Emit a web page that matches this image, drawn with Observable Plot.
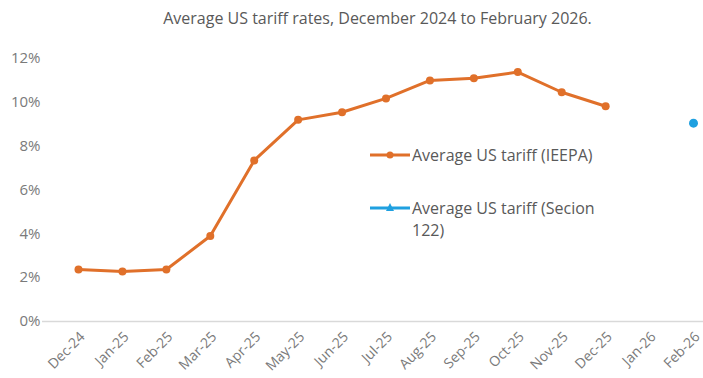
<!DOCTYPE html>
<html><head><meta charset="utf-8">
<script src="https://cdn.jsdelivr.net/npm/d3@7"></script>
<script src="https://cdn.jsdelivr.net/npm/@observablehq/plot@0.6"></script>
<style>
body{margin:0;background:#fff;font-family:"Open Sans",Lato,sans-serif;}
#wrap{position:relative;width:703px;height:378px;}
#title{height:36px;line-height:36px;font-size:16px;color:#595959;text-align:center;padding-left:52px;box-sizing:border-box;}
.leg{position:absolute;font-size:16px;color:#595959;line-height:22px;}
.leg svg{position:absolute;left:0;top:0;}
</style></head><body>
<div id="wrap">
<div id="title">Average US tariff rates, December 2024 to February 2026.</div>
<div id="chart"></div>
<div class="leg" style="left:370px;top:144px;"><svg width="44" height="22"><line x1="0" y1="11" x2="40" y2="11" stroke="#E0702A" stroke-width="3"/><circle cx="20" cy="11" r="3.5" fill="#E0702A"/></svg><span style="margin-left:42px">Average US tariff (IEEPA)</span></div>
<div class="leg" style="left:370px;top:197px;"><svg width="44" height="22"><line x1="0" y1="11" x2="40" y2="11" stroke="#1FA0E0" stroke-width="3"/><path d="M20 6 L24 14 L16 14 Z" fill="#1FA0E0"/></svg><div style="margin-left:42px">Average US tariff (Secion<br>122)</div></div>
</div>
<script>
const months = ["Dec-24","Jan-25","Feb-25","Mar-25","Apr-25","May-25","Jun-25","Jul-25","Aug-25","Sep-25","Oct-25","Nov-25","Dec-25","Jan-26","Feb-26"];
const ieepa = [2.37,2.28,2.37,3.9,7.35,9.2,9.55,10.18,11.0,11.1,11.38,10.46,9.82,null,null];
const section122 = [null,null,null,null,null,null,null,null,null,null,null,null,null,null,9.05];
const yTicks = [0,2,4,6,8,10,12];

const dIEEPA = months.map((m,i)=>({m, v: ieepa[i]})).filter(d=>d.v!=null);
const dS122 = months.map((m,i)=>({m, v: section122[i]})).filter(d=>d.v!=null);

const plot = Plot.plot({
  width: 703, height: 342,
  marginLeft: 78, marginRight: 10, marginTop: 22, marginBottom: 57,
  style: {fontFamily: "'Open Sans', Lato, sans-serif", fontSize: "14px", color: "#7a7a7a", background: "#fff", overflow: "visible"},
  x: {type: "point", domain: months, padding: 0, round: false, label: null},
  y: {domain: [0,12], label: null},
  marks: [
    Plot.axisY({ticks: yTicks, tickFormat: d => d + "%", tickSize: 0, tickPadding: 38, fontSize: 15}),
    Plot.axisX({tickSize: 0, tickRotate: -45, tickPadding: 13, dx: 4, fontSize: 14}),
    Plot.ruleY([0], {stroke: "#d9d9d9", strokeWidth: 1.5, insetLeft: -36, insetRight: -10}),
    Plot.line(dIEEPA, {x: "m", y: "v", stroke: "#E0702A", strokeWidth: 3}),
    Plot.dot(dIEEPA, {x: "m", y: "v", fill: "#E0702A", r: 4}),
    Plot.dot(dS122, {x: "m", y: "v", fill: "#1FA0E0", r: 4.5})
  ]
});
document.getElementById("chart").appendChild(plot);
</script>
</body></html>
